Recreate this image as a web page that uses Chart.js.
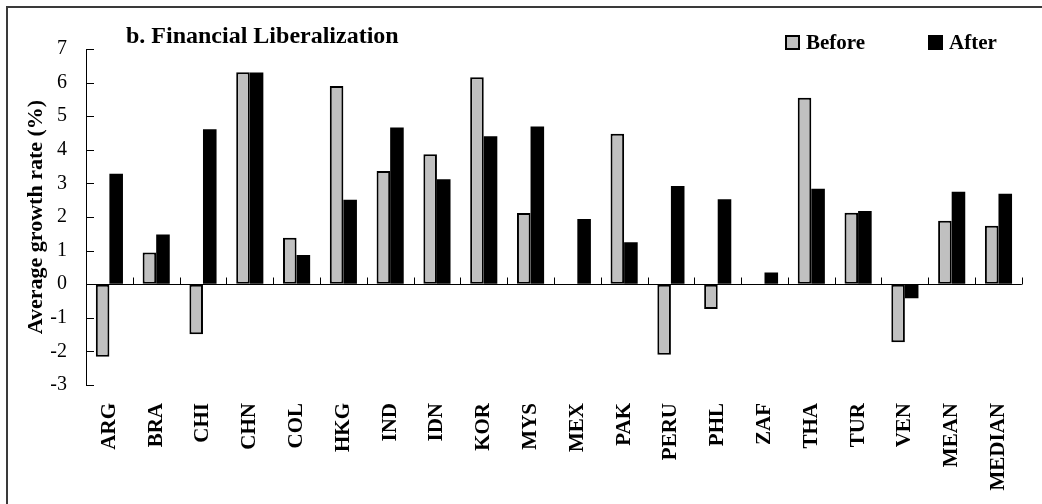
<!DOCTYPE html>
<html><head><meta charset="utf-8">
<script src="https://cdn.jsdelivr.net/npm/chart.js@4.4.0/dist/chart.umd.min.js"></script>
<style>html,body{margin:0;padding:0;background:#fff;} #wrap{width:1042px;height:504px;position:relative;}</style>
</head><body><div id="wrap"><canvas id="c" width="1042" height="504"></canvas></div>
<script>
const categories = ['ARG','BRA','CHI','CHN','COL','HKG','IND','IDN','KOR','MYS','MEX','PAK','PERU','PHL','ZAF','THA','TUR','VEN','MEAN','MEDIAN'];
const beforeValues = [-2.16,0.94,-1.49,6.31,1.38,5.90,3.37,3.87,6.16,2.12,null,4.48,-2.10,-0.74,null,5.55,2.13,-1.73,1.89,1.74];
const afterValues = [3.29,1.48,4.61,6.30,0.87,2.51,4.66,3.12,4.40,4.69,1.94,1.25,2.92,2.53,0.35,2.84,2.18,-0.42,2.75,2.69];
const yTicks = [-3,-2,-1,0,1,2,3,4,5,6,7];
const chartTitle = 'b. Financial Liberalization';
const yTitle = 'Average growth rate (%)';
const seriesNames = ['Before','After'];

const SERIF = '"Liberation Serif","Times New Roman",serif';

const decor = {
  id: 'decor',
  afterDraw(chart) {
    const ctx = chart.ctx;
    const x = chart.scales.x, y = chart.scales.y;
    const area = chart.chartArea;
    ctx.save();
    // frame
    ctx.strokeStyle = '#3a3a3a';
    ctx.lineWidth = 2;
    ctx.beginPath();
    ctx.moveTo(7, 504); ctx.lineTo(7, 7); ctx.lineTo(1042, 7);
    ctx.stroke();
    // zero line
    const y0 = Math.round(y.getPixelForValue(0)) + 0.5;
    ctx.strokeStyle = '#000';
    ctx.lineWidth = 1;
    ctx.beginPath();
    ctx.moveTo(area.left, y0); ctx.lineTo(area.right, y0);
    // x tick marks at category boundaries
    const n = categories.length;
    const step = x.getPixelForValue(1) - x.getPixelForValue(0);
    for (let i = 0; i <= n; i++) {
      const px = i < n ? x.getPixelForValue(i) - step / 2 : x.getPixelForValue(n - 1) + step / 2;
      const rx = Math.round(px) + 0.5;
      ctx.moveTo(rx, y0); ctx.lineTo(rx, y0 - 7);
    }
    // y inward ticks
    yTicks.forEach(v => {
      const py = Math.round(y.getPixelForValue(v)) + 0.5;
      ctx.moveTo(area.left, py); ctx.lineTo(area.left + 8, py);
    });
    ctx.stroke();
    // title
    ctx.fillStyle = '#000';
    ctx.font = 'bold 24px ' + SERIF;
    ctx.textAlign = 'left';
    ctx.textBaseline = 'alphabetic';
    ctx.fillText(chartTitle, 126, 43);
    // legend
    const ds = chart.data.datasets;
    ctx.font = 'bold 21px ' + SERIF;
    ctx.fillStyle = ds[0].backgroundColor;
    ctx.fillRect(786, 36, 13, 13);
    ctx.strokeStyle = '#000';
    ctx.lineWidth = 2;
    ctx.strokeRect(786, 36, 13, 13);
    ctx.fillStyle = '#000';
    ctx.fillText(ds[0].label, 806, 49);
    ctx.fillStyle = ds[1].backgroundColor;
    ctx.fillRect(928, 35, 15, 15);
    ctx.fillStyle = '#000';
    ctx.fillText(ds[1].label, 949, 49);
    ctx.restore();
  }
};

new Chart(document.getElementById('c'), {
  type: 'bar',
  data: {
    labels: categories,
    datasets: [
      { label: seriesNames[0], data: beforeValues, backgroundColor: '#C0C0C0', borderColor: '#000', borderWidth: 2, borderSkipped: false },
      { label: seriesNames[1], data: afterValues, backgroundColor: '#000000', borderColor: '#000', borderWidth: 0, borderSkipped: false }
    ]
  },
  options: {
    responsive: false,
    animation: false,
    devicePixelRatio: 1,
    layout: { padding: { left: 0, right: 13, top: 49, bottom: 0 } },
    plugins: { legend: { display: false }, title: { display: false }, tooltip: { enabled: false } },
    datasets: { bar: { categoryPercentage: 0.58, barPercentage: 1.0 } },
    scales: {
      x: {
        grid: { display: false, drawTicks: false },
        border: { display: false },
        ticks: { color: '#000', font: { family: SERIF, size: 21, weight: 'bold' }, maxRotation: 90, minRotation: 90, padding: 18, autoSkip: false },
        afterFit(s) { s.height = 119; }
      },
      y: {
        min: -3, max: 7,
        afterBuildTicks(s) { s.ticks = yTicks.map(v => ({ value: v })); },
        grid: { display: true, drawOnChartArea: false, drawTicks: false },
        border: { display: true, color: '#000', width: 1 },
        ticks: { color: '#000', font: { family: SERIF, size: 20 }, padding: 19 },
        title: { display: true, text: yTitle, color: '#000', font: { family: SERIF, size: 22, weight: 'bold' }, padding: { top: 23, bottom: 0 } },
        afterFit(s) { s.width = 86; }
      }
    }
  },
  plugins: [decor]
});
</script>
</body></html>
